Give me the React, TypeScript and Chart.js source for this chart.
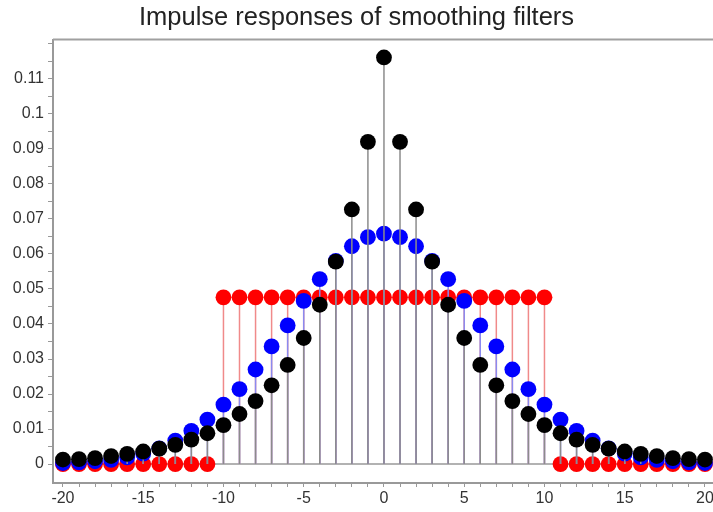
import React, { useEffect, useRef } from 'react';
import { Chart, registerables } from 'chart.js';

Chart.register(...registerables);

// lag positions (x axis)
const lags = [
  -20, -19, -18, -17, -16, -15, -14, -13, -12, -11, -10, -9, -8, -7, -6, -5, -4, -3, -2, -1,
  0, 1, 2, 3, 4, 5, 6, 7, 8, 9, 10, 11, 12, 13, 14, 15, 16, 17, 18, 19, 20,
];

// black filter (sharp-peaked exponential-like)
const blackValues = [
  0.0013, 0.0014, 0.0017, 0.0023, 0.0029, 0.0036, 0.0044, 0.0055, 0.007, 0.0088, 0.0111,
  0.0143, 0.018, 0.0225, 0.0283, 0.036, 0.0455, 0.0578, 0.0727, 0.092,
  0.1161,
  0.092, 0.0727, 0.0578, 0.0455, 0.036, 0.0283, 0.0225, 0.018, 0.0143, 0.0111,
  0.0088, 0.007, 0.0055, 0.0044, 0.0036, 0.0029, 0.0023, 0.0017, 0.0014, 0.0013,
];

// blue filter (gaussian-like)
const blueValues = [
  0.0003, 0.0005, 0.0008, 0.0012, 0.0019, 0.003, 0.0045, 0.0067, 0.0095, 0.0127, 0.017,
  0.0214, 0.027, 0.0336, 0.0396, 0.0466, 0.0528, 0.058, 0.0622, 0.0648,
  0.0658,
  0.0648, 0.0622, 0.058, 0.0528, 0.0466, 0.0396, 0.0336, 0.027, 0.0214, 0.017,
  0.0127, 0.0095, 0.0067, 0.0045, 0.003, 0.0019, 0.0012, 0.0008, 0.0005, 0.0003,
];

// red filter (moving average / boxcar)
const redValues = [
  0, 0, 0, 0, 0, 0, 0, 0, 0, 0,
  0.0476, 0.0476, 0.0476, 0.0476, 0.0476, 0.0476, 0.0476, 0.0476, 0.0476, 0.0476,
  0.0476,
  0.0476, 0.0476, 0.0476, 0.0476, 0.0476, 0.0476, 0.0476, 0.0476, 0.0476, 0.0476,
  0, 0, 0, 0, 0, 0, 0, 0, 0, 0,
];

const titleText = 'Impulse responses of smoothing filters';
// x tick marks (every lag), labelled every 5
const xTicks = lags;
const xLabelStep = 5;
// y tick marks every 0.005, labelled every 0.01
const yTicks = [
  0, 0.005, 0.01, 0.015, 0.02, 0.025, 0.03, 0.035, 0.04, 0.045, 0.05, 0.055, 0.06,
  0.065, 0.07, 0.075, 0.08, 0.085, 0.09, 0.095, 0.1, 0.105, 0.11, 0.115, 0.12,
];
const yLabelStep = 0.01;

const FONT = '"Liberation Sans", Arial, sans-serif';

function points(values: number[]) {
  return lags.map((x, i) => ({ x, y: values[i] }));
}

function stems(values: number[]) {
  const out: { x: number; y: number | null }[] = [];
  lags.forEach((x, i) => {
    out.push({ x, y: 0 });
    out.push({ x, y: values[i] });
    out.push({ x, y: null });
  });
  return out;
}

const topBorder = {
  id: 'topBorder',
  afterDraw(chart: any) {
    const { ctx, chartArea } = chart;
    ctx.save();
    ctx.strokeStyle = '#a0a0a0';
    ctx.lineWidth = 2;
    ctx.beginPath();
    ctx.moveTo(chartArea.left, chartArea.top);
    ctx.lineTo(chartArea.right, chartArea.top);
    ctx.stroke();
    ctx.restore();
  },
};

export default function App() {
  const ref = useRef<HTMLCanvasElement | null>(null);

  useEffect(() => {
    if (!ref.current) return;
    const dotDs = (values: number[], color: string, order: number) => ({
      type: 'scatter' as const,
      data: points(values),
      showLine: false,
      pointRadius: 7.9,
      pointHoverRadius: 7.9,
      pointBackgroundColor: color,
      pointBorderWidth: 0,
      borderWidth: 0,
      clip: false,
      order,
    });
    const stemDs = (values: number[], color: string, order: number) => ({
      type: 'line' as const,
      data: stems(values),
      borderColor: color,
      borderWidth: 1.5,
      pointRadius: 0,
      spanGaps: false,
      fill: false,
      order,
    });

    const chart = new Chart(ref.current, {
      type: 'scatter',
      data: {
        datasets: [
          dotDs(blackValues, '#000000', 1),
          stemDs(blackValues, '#8c8c8c', 2),
          dotDs(blueValues, '#0000ff', 3),
          stemDs(blueValues, '#8a8af0', 4),
          dotDs(redValues, '#ff0000', 5),
          stemDs(redValues, '#f08a8a', 6),
          {
            type: 'line' as const,
            data: [
              { x: lags[0], y: 0 },
              { x: lags[lags.length - 1], y: 0 },
            ],
            borderColor: '#999999',
            borderWidth: 1.5,
            pointRadius: 0,
            order: 7,
          },
        ] as any,
      },
      options: {
        animation: false,
        responsive: false,
        events: [],
        layout: { padding: 0, autoPadding: false },
        plugins: {
          legend: { display: false },
          tooltip: { enabled: false },
          title: {
            display: true,
            text: titleText,
            color: '#222222',
            font: { family: FONT, size: 25.5, weight: 'normal' },
            padding: { top: 3, bottom: 6 },
          },
        },
        scales: {
          x: {
            type: 'linear',
            min: -20.62,
            max: 20.5,
            afterBuildTicks: (s: any) => {
              s.ticks = xTicks.map((v) => ({ value: v }));
            },
            afterFit: (s: any) => {
              s.height = 29;
              s.paddingLeft = 0;
              s.paddingRight = 0;
            },
            border: { display: true, color: '#999999', width: 2 },
            grid: {
              drawOnChartArea: false,
              drawTicks: true,
              tickLength: 4,
              color: '#999999',
            },
            ticks: {
              autoSkip: false,
              maxRotation: 0,
              padding: 2,
              color: '#333333',
              font: { family: FONT, size: 16 },
              callback: (v: any) => {
                const n = Math.round(Number(v));
                return n % xLabelStep === 0 ? String(n) : '';
              },
            },
          },
          y: {
            type: 'linear',
            min: -0.0054,
            max: 0.1212,
            afterBuildTicks: (s: any) => {
              s.ticks = yTicks.map((v) => ({ value: v }));
            },
            afterFit: (s: any) => {
              s.width = 53;
              s.paddingTop = 0;
              s.paddingBottom = 0;
            },
            border: { display: true, color: '#999999', width: 2 },
            grid: {
              drawOnChartArea: false,
              drawTicks: true,
              tickLength: 5,
              color: '#999999',
            },
            ticks: {
              autoSkip: false,
              padding: 4,
              color: '#333333',
              font: { family: FONT, size: 16 },
              callback: (v: any) => {
                const n = Number(v);
                const k = n / yLabelStep;
                if (Math.abs(k - Math.round(k)) > 1e-6 || n > 0.115) return '';
                return String(Number(n.toFixed(2)));
              },
            },
          },
        },
      },
      plugins: [topBorder],
    });
    return () => chart.destroy();
  }, []);

  return (
    <div style={{ position: 'fixed', left: 0, top: 0, width: 713, height: 512, background: '#fff' }}>
      <canvas ref={ref} width={713} height={512} style={{ display: 'block' }} />
    </div>
  );
}
